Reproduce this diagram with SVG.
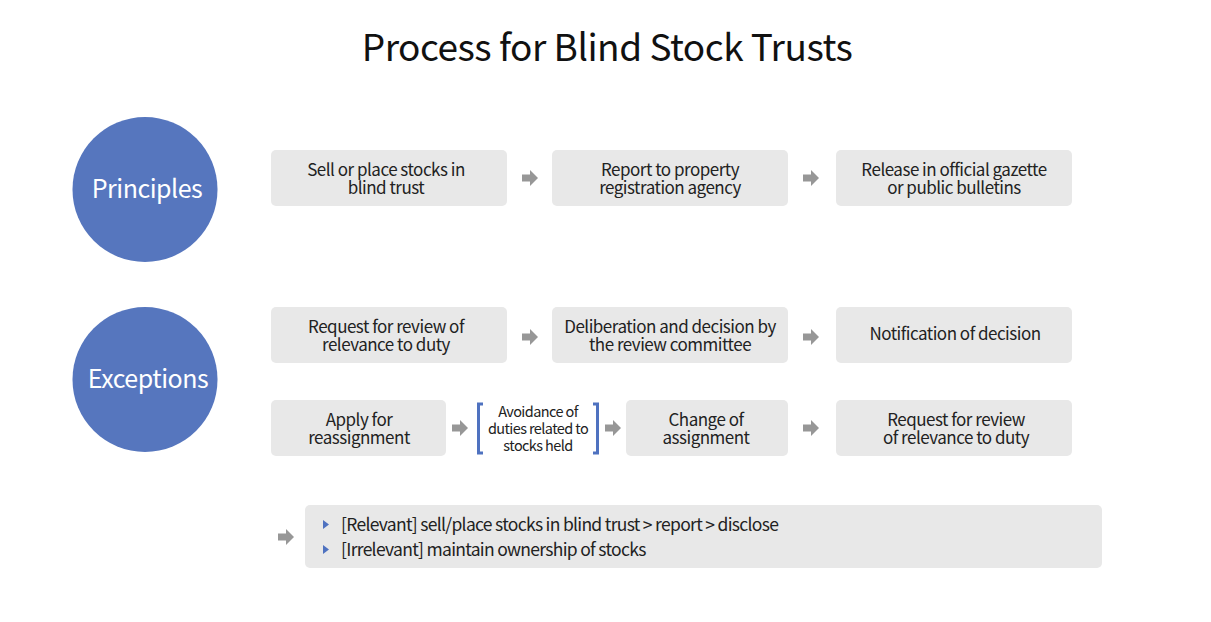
<svg xmlns="http://www.w3.org/2000/svg" width="1211" height="622" viewBox="0 0 1211 622">
<defs>
<style>
.bg{fill:#ffffff}
.circ{fill:#5676BE}
.ctext{font-family:"Noto Sans CJK KR","Noto Sans",sans-serif;font-size:25px;fill:#ffffff;text-anchor:middle;letter-spacing:-0.5px}
.box{fill:#E8E8E8}
.t{font-family:"Noto Sans CJK KR","Noto Sans",sans-serif;font-size:17px;fill:#222222;text-anchor:middle;letter-spacing:-0.5px}
.ts{font-family:"Noto Sans CJK KR","Noto Sans",sans-serif;font-size:14.5px;fill:#222222;text-anchor:middle;letter-spacing:-0.6px}
.tl{font-family:"Noto Sans CJK KR","Noto Sans",sans-serif;font-size:17.5px;fill:#222222;letter-spacing:-0.7px}
.title{font-family:"Noto Sans CJK KR","Noto Sans",sans-serif;font-size:37px;fill:#111111;text-anchor:middle;letter-spacing:-0.5px}
.br{fill:none;stroke:#4F72C0;stroke-width:3}
.bul{fill:#4F72C0}
.arr{fill:#979797}
</style>
<path id="ar" d="M-8,-3.5 L0,-3.5 L0,-8 L8,0 L0,8 L0,3.5 L-8,3.5 Z"/>
</defs>
<rect class="bg" width="1211" height="622"/>
<text class="title" x="607" y="61">Process for Blind Stock Trusts</text>

<g id="principles">
<circle class="circ" cx="145" cy="189.5" r="72.5"/>
<text class="ctext" x="147" y="198">Principles</text>
</g>
<g id="exceptions">
<circle class="circ" cx="145" cy="379.5" r="72.5"/>
<text class="ctext" x="148" y="388">Exceptions</text>
</g>

<g id="p1"><rect class="box" x="271" y="150" width="236" height="56" rx="5"/>
<text class="t" x="386" y="176">Sell or place stocks in</text><text class="t" x="386" y="194">blind trust</text></g>
<g id="p2"><rect class="box" x="552" y="150" width="236" height="56" rx="5"/>
<text class="t" x="670" y="176">Report to property</text><text class="t" x="670" y="194">registration agency</text></g>
<g id="p3"><rect class="box" x="836" y="150" width="236" height="56" rx="5"/>
<text class="t" x="954" y="176">Release in official gazette</text><text class="t" x="954" y="194">or public bulletins</text></g>

<g id="e1"><rect class="box" x="271" y="307" width="236" height="56" rx="5"/>
<text class="t" x="386" y="333">Request for review of</text><text class="t" x="386" y="351">relevance to duty</text></g>
<g id="e2"><rect class="box" x="552" y="307" width="236" height="56" rx="5"/>
<text class="t" x="670" y="333">Deliberation and decision by</text><text class="t" x="670" y="351">the review committee</text></g>
<g id="e3"><rect class="box" x="836" y="307" width="236" height="56" rx="5"/>
<text class="t" x="955" y="340">Notification of decision</text></g>

<g id="r1"><rect class="box" x="271" y="400" width="175" height="56" rx="5"/>
<text class="t" x="359" y="426">Apply for</text><text class="t" x="359" y="444">reassignment</text></g>
<g id="r2">
<path class="br" d="M483,404 L478.5,404 L478.5,453 L483,453"/>
<path class="br" d="M593,404 L597.5,404 L597.5,453 L593,453"/>
<text class="ts" x="538" y="417">Avoidance of</text><text class="ts" x="538" y="434">duties related to</text><text class="ts" x="538" y="451">stocks held</text></g>
<g id="r3"><rect class="box" x="626" y="400" width="162" height="56" rx="5"/>
<text class="t" x="706" y="426">Change of</text><text class="t" x="706" y="444">assignment</text></g>
<g id="r4"><rect class="box" x="836" y="400" width="236" height="56" rx="5"/>
<text class="t" x="956" y="426">Request for review</text><text class="t" x="956" y="444">of relevance to duty</text></g>

<g id="result"><rect class="box" x="305" y="505" width="797" height="63" rx="5"/>
<path class="bul" d="M323,520 L329,524.5 L323,529 Z"/>
<path class="bul" d="M323,545 L329,549.5 L323,554 Z"/>
<text class="tl" x="341" y="531">[Relevant] sell/place stocks in blind trust &gt; report &gt; disclose</text>
<text class="tl" x="341" y="556">[Irrelevant] maintain ownership of stocks</text></g>

<g id="connectors">
<use href="#ar" class="arr" x="530" y="178"/>
<use href="#ar" class="arr" x="811" y="178"/>
<use href="#ar" class="arr" x="530" y="337"/>
<use href="#ar" class="arr" x="811" y="337"/>
<use href="#ar" class="arr" x="460" y="428"/>
<use href="#ar" class="arr" x="613" y="428"/>
<use href="#ar" class="arr" x="811" y="428"/>
<use href="#ar" class="arr" x="286" y="537"/>
</g>
</svg>
